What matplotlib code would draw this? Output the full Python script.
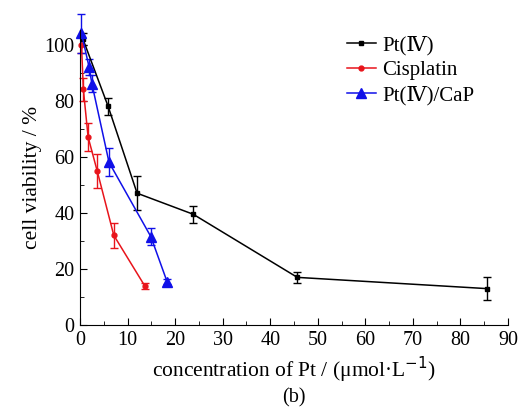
import numpy as np
import matplotlib.pyplot as plt
from matplotlib.ticker import MultipleLocator
from matplotlib.lines import Line2D

plt.rcParams["font.family"] = ["Liberation Serif", "DejaVu Serif"]

# Pt(IV)
pt_x = [0.6, 5.9, 12.0, 23.8, 45.7, 85.5]
pt_y = [102, 78, 47, 39.5, 17, 13]
pt_err = [2, 3, 6, 3, 2, 4]

# Cisplatin
cis_x = [0.3, 0.7, 1.7, 3.6, 7.1, 13.6]
cis_y = [100, 84, 67, 55, 32, 14]
cis_err = [3, 4, 5, 6, 4.5, 1]

# Pt(IV)/CaP
cap_x = [0.3, 1.9, 2.5, 6.1, 14.9, 18.3]
cap_y = [104, 92, 86, 58, 31.5, 15.5]
cap_err = [7, 3, 3, 5, 3, 1]

fig = plt.figure(figsize=(5.21, 4.12), dpi=100)
ax = fig.add_axes([0.1536, 0.211, 0.8214, 0.715])

series = [
    (pt_x, pt_y, pt_err, "black", "s", 3.5, "Pt(Ⅳ)"),
    (cis_x, cis_y, cis_err, "#e8141b", "o", 3.5, "Cisplatin"),
    (cap_x, cap_y, cap_err, "#1010e8", "^", 7, "Pt(Ⅳ)/CaP"),
]
handles = []
for x, y, e, c, m, ms, lab in series:
    ax.errorbar(x, y, yerr=e, color=c, marker=m, ms=ms, lw=1.1, capsize=3,
                elinewidth=1, clip_on=False)
    handles.append(Line2D([], [], color=c, marker=m, ms=ms, lw=1.1, label=lab))

ax.set_xlim(0, 90)
ax.set_ylim(0, 105)
ax.xaxis.set_major_locator(MultipleLocator(10))
ax.xaxis.set_minor_locator(MultipleLocator(5))
ax.yaxis.set_major_locator(MultipleLocator(20))
ax.yaxis.set_minor_locator(MultipleLocator(10))
ax.tick_params(which="both", direction="in", labelsize=14.5, pad=4)
ax.tick_params(which="major", length=5)
ax.tick_params(which="minor", length=3)
ax.spines["top"].set_visible(False)
ax.spines["right"].set_visible(False)

ax.set_xlabel("concentration of Pt / (μmol·L$^{-1}$)", fontsize=15.5, labelpad=4)
ax.set_ylabel("cell viability / %", fontsize=15.5, labelpad=2)
ax.legend(handles=handles, loc="upper right", frameon=False, fontsize=15,
          handlelength=1.4, labelspacing=0.25, handletextpad=0.3,
          bbox_to_anchor=(0.965, 1.045))
fig.text(0.565, 0.022, "(b)", ha="center", fontsize=14.5)

fig.savefig("out.png", dpi=100)
